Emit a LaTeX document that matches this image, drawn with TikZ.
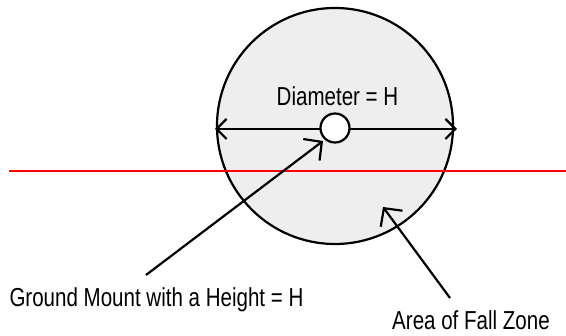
\documentclass[tikz,border=0pt]{standalone}
\usepackage{fontspec}
\setmainfont{Liberation Sans}[FakeStretch=0.79]
\usetikzlibrary{arrows.meta}
\definecolor{zonegray}{RGB}{238,238,238}
\tikzset{
  zone/.style={circle, draw=black, line width=2.2pt, fill=zonegray, minimum size=236pt, inner sep=0pt, outer sep=0pt},
  mount/.style={circle, draw=black, line width=2.2pt, fill=white, minimum size=29pt, inner sep=0pt, outer sep=0pt},
  lbl/.style={inner sep=0pt, anchor=base, font=\fontsize{26}{29}\selectfont},
  dimarrow/.style={line width=2.2pt, {Straight Barb[length=10pt, width=20pt]}-{Straight Barb[length=10pt, width=20pt]}},
  pointer/.style={line width=2.2pt, -{Straight Barb[length=13pt, width=27pt]}},
  ground/.style={line width=2.2pt, draw=red}
}
\begin{document}
\begin{tikzpicture}[x=1pt, y=-1pt]
\useasboundingbox (0,0) rectangle (566,336);
\node[zone] (big) at (335,126) {};
\coordinate (dl) at (215,129);
\coordinate (dr) at (457,129);
\draw[dimarrow] (dl) -- (dr);
\node[mount] (small) at (335,128) {};
\coordinate (gl) at (9,171);
\coordinate (gr) at (566,171);
\draw[ground] (gl) -- (gr);
\node[lbl] (diam) at (337.5,106) {Diameter = H};
\node[lbl] (mountlbl) at (156.5,307) {Ground Mount with a Height = H};
\node[lbl] (arealbl) at (471,330) {Area of Fall Zone};
\coordinate (mtail) at (146,275);
\coordinate (mtip) at (323,141);
\coordinate (atail) at (450,298);
\coordinate (atip) at (383,207);
\draw[pointer] (mtail) -- (mtip);
\draw[pointer] (atail) -- (atip);
\end{tikzpicture}
\end{document}
